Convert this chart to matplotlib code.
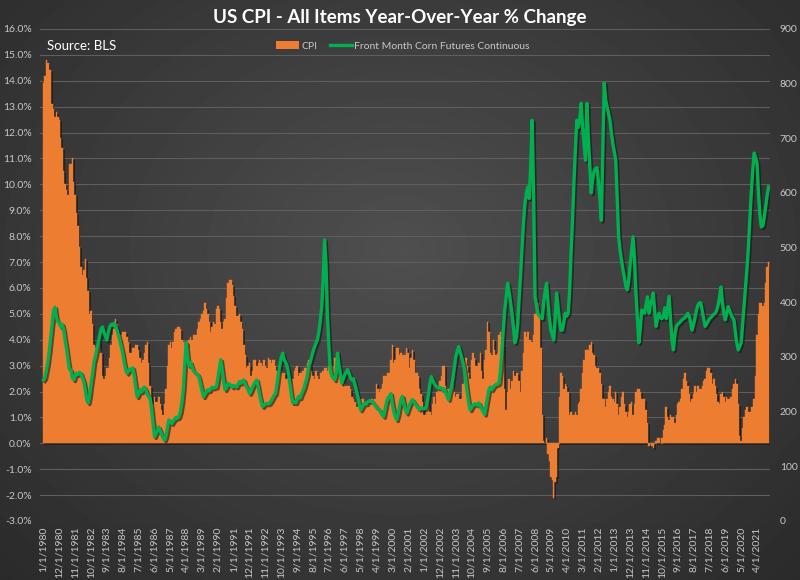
import numpy as np
import pandas as pd
import matplotlib
matplotlib.use("Agg")
import matplotlib.pyplot as plt
from matplotlib import patheffects as pe
from matplotlib.patches import Patch
from matplotlib.lines import Line2D

# monthly categories, Jan 1980 .. Dec 2021
months = pd.date_range("1980-01-01", "2021-12-01", freq="MS")

# CPI, all items, year-over-year % change (one row per year)
cpi = [
    13.9, 14.2, 14.8, 14.7, 14.4, 14.4, 13.1, 12.9, 12.6, 12.8, 12.6, 12.5,
    11.8, 11.4, 10.5, 10.0, 9.8, 9.6, 10.8, 10.8, 11.0, 10.1, 9.6, 8.9,
    8.4, 7.6, 6.8, 6.5, 6.7, 7.1, 6.4, 5.9, 5.0, 5.1, 4.6, 3.8,
    3.7, 3.5, 3.6, 3.9, 3.5, 2.6, 2.5, 2.6, 2.9, 2.9, 3.3, 3.8,
    4.2, 4.6, 4.8, 4.6, 4.2, 4.2, 4.2, 4.3, 4.3, 4.3, 4.1, 3.9,
    3.5, 3.5, 3.7, 3.7, 3.8, 3.8, 3.6, 3.3, 3.1, 3.2, 3.5, 3.8,
    3.9, 3.1, 2.2, 1.6, 1.5, 1.8, 1.6, 1.6, 1.8, 1.5, 1.3, 1.1,
    1.5, 2.1, 3.0, 3.8, 3.9, 3.7, 3.9, 4.3, 4.4, 4.5, 4.5, 4.4,
    4.0, 3.9, 3.9, 3.9, 3.9, 4.0, 4.1, 4.0, 4.2, 4.2, 4.2, 4.4,
    4.7, 4.8, 5.0, 5.1, 5.4, 5.2, 5.0, 4.7, 4.3, 4.5, 4.7, 4.6,
    5.2, 5.3, 5.2, 4.7, 4.4, 4.7, 4.8, 5.6, 6.2, 6.3, 6.3, 6.1,
    5.7, 5.3, 4.9, 4.9, 5.0, 4.7, 4.4, 3.8, 3.4, 2.9, 3.0, 3.1,
    2.6, 2.8, 3.2, 3.2, 3.0, 3.1, 3.2, 3.1, 3.0, 3.2, 3.0, 2.9,
    3.3, 3.2, 3.1, 3.2, 3.2, 3.0, 2.8, 2.8, 2.7, 2.8, 2.7, 2.7,
    2.5, 2.5, 2.5, 2.4, 2.3, 2.5, 2.8, 2.9, 3.0, 2.6, 2.7, 2.7,
    2.8, 2.9, 2.9, 3.1, 3.2, 3.0, 2.8, 2.6, 2.5, 2.8, 2.6, 2.5,
    2.7, 2.7, 2.8, 2.9, 2.9, 2.8, 3.0, 2.9, 3.0, 3.0, 3.3, 3.3,
    3.0, 3.0, 2.8, 2.5, 2.2, 2.3, 2.2, 2.2, 2.2, 2.1, 1.8, 1.7,
    1.6, 1.4, 1.4, 1.4, 1.7, 1.7, 1.7, 1.6, 1.5, 1.5, 1.5, 1.6,
    1.7, 1.6, 1.7, 2.3, 2.1, 2.0, 2.1, 2.3, 2.6, 2.6, 2.6, 2.7,
    2.7, 3.2, 3.8, 3.1, 3.2, 3.7, 3.7, 3.4, 3.5, 3.4, 3.4, 3.4,
    3.7, 3.5, 2.9, 3.3, 3.6, 3.2, 2.7, 2.7, 2.6, 2.1, 1.9, 1.6,
    1.1, 1.1, 1.5, 1.6, 1.2, 1.1, 1.5, 1.8, 1.5, 2.0, 2.2, 2.4,
    2.6, 3.0, 3.0, 2.2, 2.1, 2.1, 2.1, 2.2, 2.3, 2.0, 1.8, 1.9,
    1.9, 1.7, 1.7, 2.3, 3.1, 3.3, 3.0, 2.7, 2.5, 3.2, 3.5, 3.3,
    3.0, 3.0, 3.1, 3.5, 2.8, 2.5, 3.2, 3.6, 4.7, 4.3, 3.5, 3.4,
    4.0, 3.6, 3.4, 3.5, 4.2, 4.3, 4.1, 3.8, 2.1, 1.3, 2.0, 2.5,
    2.1, 2.4, 2.8, 2.6, 2.7, 2.7, 2.4, 2.0, 2.8, 3.5, 4.3, 4.1,
    4.3, 4.0, 4.0, 3.9, 4.2, 5.0, 5.6, 5.4, 4.9, 3.7, 1.1, 0.1,
    0.0, 0.2, -0.4, -0.7, -1.3, -1.4, -2.1, -1.5, -1.3, -0.2, 1.8, 2.7,
    2.6, 2.1, 2.3, 2.2, 2.0, 1.1, 1.2, 1.1, 1.1, 1.2, 1.1, 1.5,
    1.6, 2.1, 2.7, 3.2, 3.6, 3.6, 3.6, 3.8, 3.9, 3.5, 3.4, 3.0,
    2.9, 2.9, 2.7, 2.3, 1.7, 1.7, 1.4, 1.7, 2.0, 2.2, 1.8, 1.7,
    1.6, 2.0, 1.5, 1.1, 1.4, 1.8, 2.0, 1.5, 1.2, 1.0, 1.2, 1.5,
    1.6, 1.1, 1.5, 2.0, 2.1, 2.1, 2.0, 1.7, 1.7, 1.7, 1.3, 0.8,
    -0.1, 0.0, -0.1, -0.2, 0.0, 0.1, 0.2, 0.2, 0.0, 0.2, 0.5, 0.7,
    1.4, 1.0, 0.9, 1.1, 1.0, 1.0, 0.8, 1.1, 1.5, 1.6, 1.7, 2.1,
    2.5, 2.7, 2.4, 2.2, 1.9, 1.6, 1.7, 1.9, 2.2, 2.0, 2.2, 2.1,
    2.1, 2.2, 2.4, 2.5, 2.8, 2.9, 2.9, 2.7, 2.3, 2.5, 2.2, 1.9,
    1.6, 1.5, 1.9, 2.0, 1.8, 1.6, 1.8, 1.7, 1.7, 1.8, 2.1, 2.3,
    2.5, 2.3, 1.5, 0.3, 0.1, 0.6, 1.0, 1.3, 1.4, 1.2, 1.2, 1.4,
    1.4, 1.7, 2.6, 4.2, 5.0, 5.4, 5.4, 5.3, 5.4, 6.2, 6.8, 7.0,
]

# front month corn futures, cents per bushel (one row per year)
corn = [
    258, 262, 275, 290, 310, 335, 360, 385, 391, 372, 365, 362,
    355, 360, 350, 331, 315, 295, 278, 276, 262, 258, 266, 270,
    268, 272, 270, 262, 255, 240, 222, 216, 228, 250, 268, 290,
    300, 313, 325, 340, 352, 355, 345, 338, 331, 345, 355, 360,
    358, 362, 355, 350, 340, 330, 318, 307, 290, 278, 270, 275,
    278, 276, 280, 265, 245, 227, 232, 240, 236, 242, 245, 240,
    232, 227, 225, 205, 180, 154, 160, 165, 172, 165, 158, 152,
    148, 155, 170, 185, 182, 178, 183, 186, 190, 188, 191, 200,
    216, 240, 285, 326, 300, 284, 290, 282, 275, 272, 270, 268,
    262, 250, 238, 227, 232, 236, 240, 238, 242, 245, 243, 245,
    245, 262, 280, 295, 275, 255, 240, 244, 252, 250, 248, 245,
    248, 246, 245, 250, 255, 252, 256, 258, 250, 245, 240, 233,
    238, 245, 250, 255, 258, 245, 230, 218, 209, 212, 214, 215,
    214, 216, 220, 225, 230, 233, 250, 270, 285, 300, 307, 295,
    290, 284, 270, 250, 230, 216, 218, 216, 222, 228, 225, 232,
    238, 245, 255, 265, 282, 290, 300, 310, 318, 325, 331, 345,
    365, 391, 440, 514, 470, 374, 320, 276, 265, 262, 258, 270,
    307, 285, 270, 252, 260, 268, 272, 277, 270, 262, 258, 260,
    250, 240, 228, 215, 203, 208, 212, 216, 214, 218, 220, 219,
    219, 215, 212, 208, 206, 203, 198, 194, 191, 205, 218, 225,
    228, 233, 215, 200, 192, 185, 195, 210, 222, 228, 215, 205,
    197, 205, 212, 218, 222, 218, 214, 210, 206, 204, 207, 206,
    205, 206, 215, 230, 250, 264, 258, 252, 248, 245, 243, 244,
    243, 240, 242, 235, 228, 222, 235, 245, 260, 280, 300, 310,
    319, 310, 300, 290, 277, 255, 235, 215, 203, 208, 212, 214,
    214, 212, 216, 210, 205, 200, 195, 210, 225, 240, 245, 240,
    245, 248, 250, 250, 252, 275, 310, 350, 386, 410, 435, 420,
    400, 380, 355, 326, 335, 360, 409, 450, 500, 545, 580, 600,
    611, 590, 650, 733, 600, 410, 395, 380, 375, 372, 370, 400,
    420, 435, 400, 370, 349, 340, 331, 370, 417, 390, 365, 349,
    349, 365, 380, 375, 380, 420, 490, 550, 620, 680, 733, 720,
    735, 764, 720, 690, 660, 764, 700, 650, 600, 625, 640, 645,
    646, 620, 590, 550, 680, 801, 770, 758, 745, 733, 710, 690,
    675, 660, 590, 520, 495, 477, 460, 445, 430, 423, 440, 470,
    495, 520, 480, 417, 370, 326, 350, 386, 383, 380, 395, 410,
    380, 395, 405, 417, 385, 356, 370, 380, 372, 370, 375, 390,
    370, 390, 411, 370, 330, 313, 340, 356, 360, 362, 365, 368,
    370, 372, 375, 380, 375, 362, 349, 360, 372, 385, 395, 399,
    399, 385, 370, 356, 360, 365, 370, 372, 375, 378, 380, 385,
    395, 410, 428, 400, 380, 368, 380, 392, 385, 378, 372, 368,
    345, 325, 313, 320, 326, 360, 395, 428, 460, 500, 550, 600,
    640, 673, 665, 655, 600, 560, 538, 540, 555, 575, 595, 611,
]

tick_step = 11
tick_labels = [f"{d.month}/1/{d.year}" for d in months[::tick_step]]

ORANGE = "#ED7D31"
GREEN = "#00B050"
TXT = "#c8c8c8"
FONT = "Lato"

fig = plt.figure(figsize=(8, 5.8), dpi=100)

# dark radial background
bg_ax = fig.add_axes([0, 0, 1, 1], zorder=-10)
yy, xx = np.mgrid[0:580, 0:800]
dist = np.sqrt(((xx - 400) / 480) ** 2 + ((yy - 250) / 380) ** 2)
shade = np.clip(0.31 - 0.12 * dist, 0.12, 0.4)
bg_ax.imshow(shade, cmap="gray", vmin=0, vmax=1, aspect="auto")
bg_ax.axis("off")

ax = fig.add_axes([40 / 800, 1 - 521 / 580, 730 / 800, 492 / 580])
ax.patch.set_alpha(0)
x = np.arange(len(months))

shadow = [pe.SimplePatchShadow(offset=(1.2, -1.2), shadow_rgbFace="#1a1a1a", alpha=0.7), pe.Normal()]
ax.bar(x, cpi, width=1.0, color=ORANGE, edgecolor=ORANGE, linewidth=0.3,
       path_effects=shadow, zorder=2)

ax.set_ylim(-3, 16)
ax.set_yticks(np.arange(-3, 17, 1))
ax.set_yticklabels([f"{v:.1f}%" for v in np.arange(-3, 17, 1)])
ax.set_xlim(-2.4, 504)
ax.set_xticks(x[::tick_step])
ax.set_xticklabels(tick_labels, rotation=90)
ax.grid(axis="y", color="#5e5e5e", linewidth=0.8)
ax.set_axisbelow(True)
ax.tick_params(length=0, colors=TXT, labelsize=7.5)
ax.tick_params(axis="y", pad=6)
ax.tick_params(axis="x", pad=4)
for s in ax.spines.values():
    s.set_visible(False)

ax2 = ax.twinx()
ax2.plot(x, corn, color=GREEN, linewidth=2.4, zorder=3,
         path_effects=[pe.SimpleLineShadow(offset=(1.2, -1.2), shadow_color="#151515", alpha=0.6), pe.Normal()])
ax2.set_ylim(0, 900)
ax2.set_yticks(np.arange(0, 901, 100))
ax2.tick_params(length=0, colors=TXT, labelsize=7.5, pad=7)
for s in ax2.spines.values():
    s.set_visible(False)

for lab in ax.get_xticklabels() + ax.get_yticklabels() + ax2.get_yticklabels():
    lab.set_fontfamily(FONT)

fig.text(0.5, 1 - 17 / 580, "US CPI - All Items Year-Over-Year % Change", ha="center", va="center",
         color="white", fontsize=13.5, fontweight="bold", family=FONT)
fig.text(47 / 800, 1 - 46 / 580, "Source: BLS", ha="left", va="center",
         color="white", fontsize=9.5, family=FONT)

handles = [Patch(facecolor=ORANGE, edgecolor="none"), Line2D([0], [0], color=GREEN, linewidth=2.4)]
fig.legend(handles, ["CPI", "Front Month Corn Futures Continuous"], loc="center",
           bbox_to_anchor=(403 / 800, 1 - 46 / 580), ncol=2, frameon=False,
           prop={"family": FONT, "size": 7.5}, labelcolor=TXT, handlelength=2.2,
           handletextpad=0.2, columnspacing=1.2)

fig.savefig("out.png", dpi=100)
